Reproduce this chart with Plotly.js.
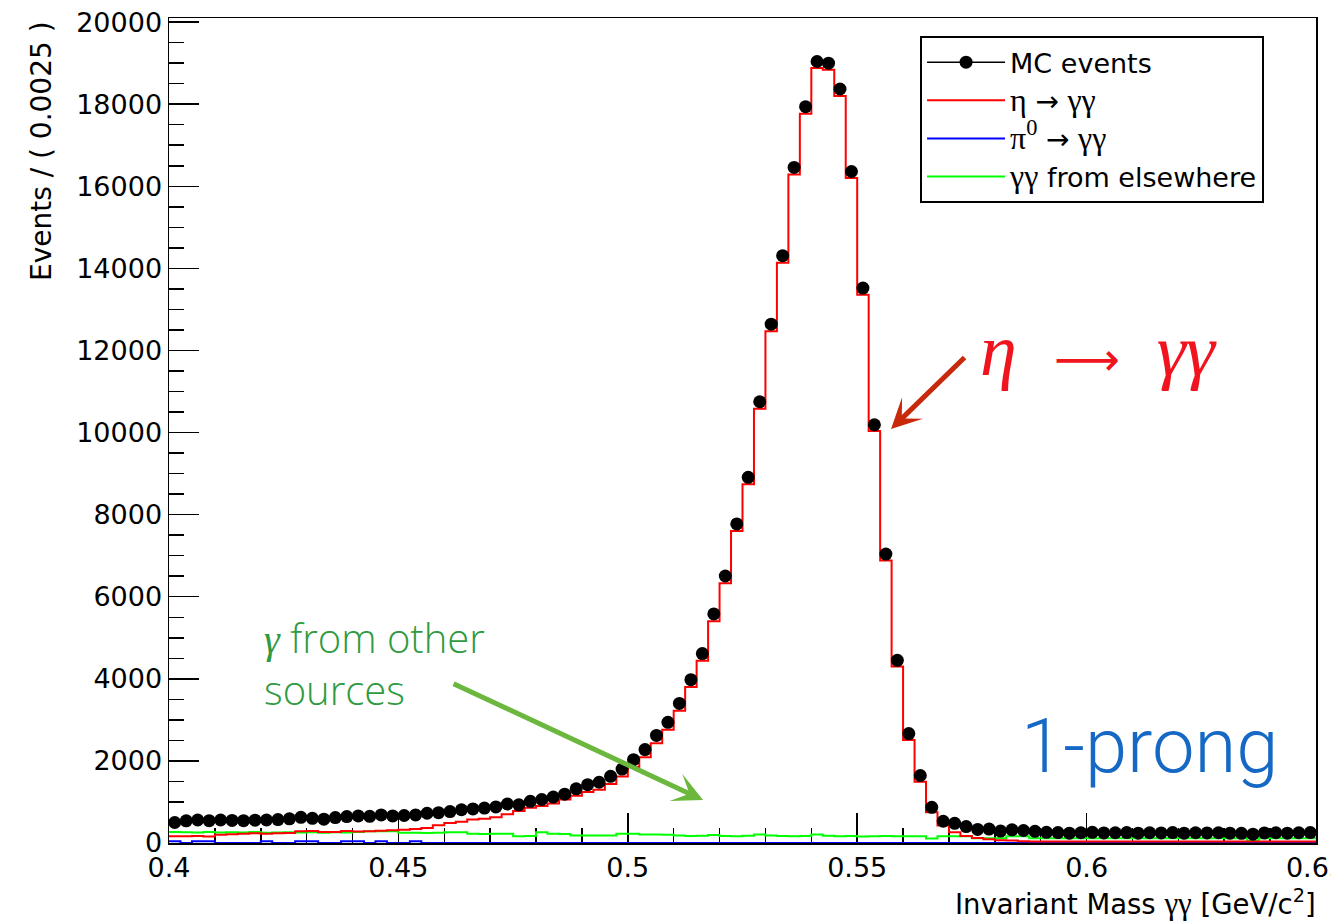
<!DOCTYPE html>
<html>
<head>
<meta charset="utf-8">
<script src="https://cdn.plot.ly/plotly-3.0.1.min.js"></script>
<style>
  html, body { margin: 0; padding: 0; background: #fff; }
  #chart { width: 1331px; height: 922px; }
</style>
</head>
<body>
<div id="chart"></div>
<script>
// Diphoton invariant mass, 100 bins of 0.0025 GeV/c^2 starting at 0.4
const massLow = 0.4;
const binWidth = 0.0025;
const massTicks = [0.4, 0.45, 0.5, 0.55, 0.6, 0.65];

// MC events per bin
const mcEvents = [
  500, 540, 560, 545, 560, 550, 545, 555, 560, 570,
  590, 625, 600, 580, 620, 645, 660, 650, 685, 660,
  670, 685, 725, 740, 766, 810, 830, 850, 880, 950,
  930, 1015, 1060, 1120, 1190, 1320, 1420, 1480, 1625, 1800,
  2030, 2275, 2620, 2940, 3400, 3980, 4615, 5580, 6505, 7775,
  8910, 10750, 12640, 14310, 16460, 17940, 19040, 19000, 18370, 16360,
  13520, 10190, 7040, 4450, 2665, 1645, 870, 530, 480, 400,
  330, 340, 290, 320, 305, 285, 260, 255, 240, 250,
  260, 245, 250, 255, 240, 250, 245, 255, 240, 250,
  245, 250, 240, 235, 215, 245, 250, 240, 250, 255
];

// eta -> gamma gamma component
const etaGG = [
  165, 165, 170, 160, 200, 215, 225, 235, 225, 240,
  245, 285, 290, 270, 265, 290, 280, 285, 300, 310,
  320, 340, 365, 430, 490, 520, 570, 590, 625, 700,
  780, 860, 900, 960, 1060, 1150, 1240, 1300, 1440, 1620,
  1850, 2090, 2430, 2760, 3220, 3800, 4440, 5400, 6330, 7600,
  8740, 10580, 12470, 14140, 16290, 17770, 18880, 18840, 18200, 16200,
  13360, 10040, 6880, 4300, 2510, 1490, 750, 425, 262, 170,
  120, 90, 70, 60, 40, 38, 36, 38, 35, 36,
  38, 35, 36, 37, 35, 36, 38, 35, 36, 37,
  35, 36, 38, 35, 36, 37, 35, 36, 38, 36
];

// pi0 -> gamma gamma component
const pi0GG = [
  45, 0, 45, 45, 0, 0, 0, 0, 45, 0,
  0, 45, 45, 0, 0, 45, 45, 0, 45, 0,
  0, 45, 0, 0, 0, 0, 0, 0, 0, 0,
  0, 0, 0, 0, 0, 0, 0, 0, 0, 0,
  0, 0, 0, 0, 0, 0, 0, 0, 0, 0,
  0, 0, 0, 0, 0, 0, 0, 0, 0, 0,
  0, 0, 0, 0, 0, 0, 0, 0, 0, 0,
  0, 0, 0, 0, 0, 0, 0, 0, 0, 0,
  0, 0, 0, 0, 0, 0, 0, 0, 0, 0,
  0, 0, 0, 0, 0, 0, 0, 0, 0, 0
];

// photon pairs from elsewhere
const otherGG = [
  265, 262, 258, 265, 255, 262, 258, 265, 250, 258,
  262, 255, 260, 250, 262, 258, 265, 287, 287, 285,
  250, 248, 245, 250, 263, 263, 224, 222, 226, 224,
  166, 170, 263, 224, 222, 183, 180, 185, 183, 224,
  225, 207, 205, 200, 185, 172, 178, 192, 170, 166,
  175, 205, 185, 170, 166, 172, 205, 175, 166, 170,
  160, 166, 172, 166, 166, 166, 110, 166, 166, 166,
  118, 118, 118, 166, 166, 115, 115, 115, 115, 115,
  115, 115, 115, 115, 115, 115, 115, 115, 115, 115,
  115, 115, 115, 115, 55, 115, 115, 115, 115, 115
];

const SERIF = 'Liberation Serif';
const sym = (t, px) => '<span style="font-family:' + SERIF + ';font-size:' + px + 'px">' + t + '</span>';
const arrowGlyph = px => '<span style="font-family:DejaVu Sans;font-size:' + px + 'px">→</span>';

const xTitle = 'Invariant Mass ' + sym('γγ', 31) + ' [GeV/c<sup>2</sup>]';
const yTitle = 'Events / ( 0.0025 )';

// bin centres for the points, bin edges for the step outlines
const centers = mcEvents.map((_, i) => massLow + binWidth * (i + 0.5));
const edges = mcEvents.map((_, i) => massLow + binWidth * i)
  .concat([massLow + binWidth * mcEvents.length]);
const closeStep = v => v.concat([v[v.length - 1]]);

const stepTrace = (vals, color, name, rank) => ({
  type: 'scatter', mode: 'lines', x: edges, y: closeStep(vals),
  line: { shape: 'hv', color: color, width: 2 },
  name: name, legendrank: rank, hoverinfo: 'skip'
});

const traces = [
  stepTrace(otherGG, '#00ff00', sym('γγ', 32) + ' from elsewhere', 4),
  stepTrace(pi0GG, '#0000ff', sym('π<sup>0</sup>', 32) + ' ' + arrowGlyph(28) + ' ' + sym('γγ', 32), 3),
  stepTrace(etaGG, '#ff0000', sym('η', 32) + ' ' + arrowGlyph(28) + ' ' + sym('γγ', 32), 2),
  {
    type: 'scatter', mode: 'markers', x: centers, y: mcEvents,
    marker: { color: '#000', size: 13 }, cliponaxis: false,
    showlegend: false, name: 'MC events'
  },
  {
    // legend entry for the MC points (line through marker)
    type: 'scatter', mode: 'lines+markers', x: [null], y: [null],
    marker: { color: '#000', size: 13 }, line: { color: '#000', width: 1.5 },
    name: 'MC events', legendrank: 1
  }
];

const axisCommon = {
  ticks: 'inside', ticklen: 30, tickwidth: 1.5, tickcolor: '#000',
  showline: true, linecolor: '#000', linewidth: 1.5, mirror: true,
  showgrid: false, zeroline: false, layer: 'below traces',
  automargin: false, fixedrange: true, ticklabeloverflow: 'allow',
  tickfont: { family: 'DejaVu Sans', size: 27, color: '#000' }
};

const layout = {
  width: 1331, height: 922,
  margin: { l: 169, r: 15, t: 18, b: 79, pad: 0 },
  paper_bgcolor: '#fff', plot_bgcolor: '#fff',
  font: { family: 'DejaVu Sans', size: 27, color: '#000' },
  showlegend: true,
  legend: {
    x: 0.6548, y: 0.978, xanchor: 'left', yanchor: 'top',
    bordercolor: '#000', borderwidth: 2, bgcolor: '#fff',
    font: { family: 'DejaVu Sans', size: 27, color: '#000' },
    itemwidth: 78, tracegroupgap: 0, entrywidth: 350
  },
  xaxis: Object.assign({}, axisCommon, {
    range: [0.4, 0.65], tickmode: 'array', tickvals: massTicks,
    ticktext: massTicks.map(String),
    minor: { tick0: 0.4, dtick: 0.01, ticks: 'inside', ticklen: 15, tickwidth: 1.5, tickcolor: '#000', showgrid: false }
  }),
  yaxis: Object.assign({}, axisCommon, {
    range: [0, 20100], tick0: 0, dtick: 2000, tickformat: 'd',
    minor: { tick0: 0, dtick: 500, ticks: 'inside', ticklen: 15, tickwidth: 1.5, tickcolor: '#000', showgrid: false }
  }),
  annotations: [
    { xref: 'paper', yref: 'paper', x: -0.1107, y: 0.8388, xanchor: 'center', yanchor: 'middle',
      text: yTitle, textangle: -90, showarrow: false, font: { family: 'DejaVu Sans', size: 28, color: '#000' } },
    { xref: 'paper', yref: 'paper', x: 0.8422, y: -0.0727, xanchor: 'center', yanchor: 'middle',
      text: xTitle, showarrow: false, font: { family: 'DejaVu Sans', size: 27.5, color: '#000' } },
    { xref: 'paper', yref: 'paper', x: 0.8105, y: 0.5976, xanchor: 'center', yanchor: 'middle',
      text: '<i>η</i>  <span style="font-family:DejaVu Sans;font-size:46px">⟶</span>  <i>γγ</i>',
      showarrow: false, font: { family: SERIF, size: 74, color: '#f0141e' } },
    { xref: 'paper', yref: 'paper', x: 0.0811, y: 0.285, xanchor: 'left', yanchor: 'top', align: 'left',
      text: '<span style="font-family:' + SERIF + '"><i>γ</i></span> from other<br>sources', showarrow: false,
      font: { family: 'Open Sans', weight: 300, size: 40, color: '#2f9a3f' } },
    { xref: 'paper', yref: 'paper', x: 0.8553, y: 0.1176, xanchor: 'center', yanchor: 'middle',
      text: '1-prong', showarrow: false, font: { family: 'Roboto', weight: 300, size: 76, color: '#1568c4' } },
    { xref: 'paper', yref: 'paper', x: 0.6295, y: 0.5018, text: '', showarrow: true,
      ax: 75, ay: -73, arrowcolor: '#c8290b', arrowwidth: 5, arrowhead: 3, arrowsize: 1 },
    { xref: 'paper', yref: 'paper', x: 0.4656, y: 0.0521, text: '', showarrow: true,
      ax: -251, ay: -117, arrowcolor: '#6cb83f', arrowwidth: 5, arrowhead: 3, arrowsize: 1 }
  ]
};

Plotly.newPlot('chart', traces, layout, { displayModeBar: false, staticPlot: true });
</script>
</body>
</html>
